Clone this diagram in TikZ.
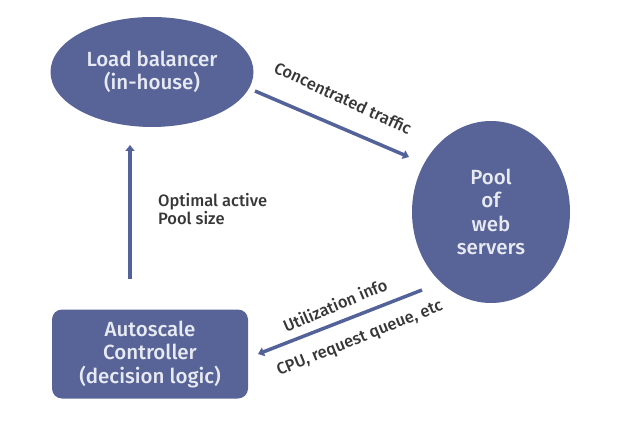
\documentclass[tikz,border=0pt]{standalone}
\usepackage{fontspec}
\setmainfont{Fira Sans Medium}
\usetikzlibrary{shapes.geometric,arrows.meta}
\definecolor{boxblue}{RGB}{88,100,152}
\definecolor{arrowblue}{RGB}{84,98,154}
\definecolor{lighttext}{RGB}{232,234,242}
\definecolor{labeltext}{RGB}{55,55,55}
\begin{document}
\begin{tikzpicture}[x=1pt,y=-1pt,
  shapefill/.style={fill=boxblue,draw=none,text=lighttext,align=center,
    font=\fontsize{20.5}{23.5}\selectfont,inner sep=0pt},
  ellip/.style={shapefill,ellipse},
  ctrlbox/.style={shapefill,rectangle,rounded corners=10pt},
  flow/.style={draw=arrowblue,line width=3.5pt,-{Triangle[length=6pt,width=9pt]}},
  lbl/.style={text=labeltext,font=\fontsize{16.5}{18}\selectfont,inner sep=0pt}]
\useasboundingbox (0,0) rectangle (620,427);
\node[ellip,minimum width=203pt,minimum height=110pt] (lb) at (152,72) {Load balancer\\(in-house)};
\node[ellip,minimum width=158pt,minimum height=182pt] (pool) at (491,212) {Pool\\of\\web\\servers};
\node[ctrlbox,minimum width=196pt,minimum height=89pt] (ctrl) at (150,354) {Autoscale\\Controller\\(decision logic)};
\coordinate (a1s) at (255,91);
\coordinate (a1e) at (409,157);
\coordinate (a2s) at (422,290);
\coordinate (a2e) at (258,354);
\coordinate (a3s) at (130,279);
\coordinate (a3e) at (130,145);
\draw[flow] (a1s) -- (a1e);
\draw[flow] (a2s) -- (a2e);
\draw[flow] (a3s) -- (a3e);
\node[lbl,rotate=-25] (l1) at (343,98) {Concentrated traffic};
\node[lbl,rotate=23] (l2) at (335,305) {Utilization info};
\node[lbl,rotate=22] (l3) at (360,339) {CPU, request queue, etc};
\node[lbl,align=left,anchor=west] (l4) at (158,209) {Optimal active\\Pool size};
\end{tikzpicture}
\end{document}
